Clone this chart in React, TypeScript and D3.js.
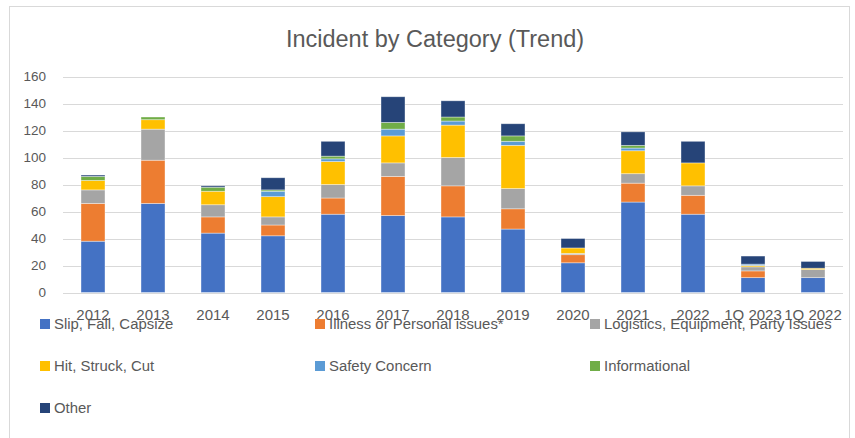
import { useEffect, useRef } from "react";
import * as d3 from "d3";

const categories = [
  "2012", "2013", "2014", "2015", "2016", "2017", "2018",
  "2019", "2020", "2021", "2022", "1Q 2023", "1Q 2022",
];

const slipFall = [38, 66, 44, 42, 58, 57, 56, 47, 22, 67, 58, 11, 11];
const illness = [28, 32, 12, 8, 12, 29, 23, 15, 6, 14, 14, 5, 0];
const logistics = [10, 23, 9, 6, 10, 10, 21, 15, 1, 7, 7, 3, 6];
const hitStruck = [7, 7, 10, 15, 17, 20, 24, 32, 4, 17, 17, 1, 1];
const safety = [0, 0, 0, 4, 2, 5, 3, 3, 0, 2, 0, 1, 0];
const informational = [3, 2, 3, 1, 2, 5, 3, 4, 0, 2, 0, 0, 0];
const other = [1, 0, 1, 9, 11, 19, 12, 9, 7, 10, 16, 6, 5];

const seriesNames = [
  "Slip, Fall, Capsize",
  "Illness or Personal issues*",
  "Logistics, Equipment, Party Issues",
  "Hit, Struck, Cut",
  "Safety Concern",
  "Informational",
  "Other",
];
const seriesValues = [slipFall, illness, logistics, hitStruck, safety, informational, other];
const colors = ["#4472C4", "#ED7D31", "#A5A5A5", "#FFC000", "#5B9BD5", "#70AD47", "#264478"];
const yTicks = [0, 20, 40, 60, 80, 100, 120, 140, 160];

export default function App() {
  const svgRef = useRef<SVGSVGElement>(null);

  useEffect(() => {
    const width = 855;
    const height = 438;
    const font = "'Liberation Sans', Arial, sans-serif";
    const textColor = "#595959";

    const svg = d3.select(svgRef.current).attr("width", width).attr("height", height);
    svg.selectAll("*").remove();

    svg.append("rect").attr("width", width).attr("height", height).attr("fill", "#fff");
    svg
      .append("rect")
      .attr("x", 9.5)
      .attr("y", 6.5)
      .attr("width", 840)
      .attr("height", 450)
      .attr("fill", "none")
      .attr("stroke", "#d9d9d9");

    svg
      .append("text")
      .attr("x", 435)
      .attr("y", 46.5)
      .attr("text-anchor", "middle")
      .attr("font-family", font)
      .attr("font-size", "23.5px")
      .attr("fill", textColor)
      .text("Incident by Category (Trend)");

    const x = d3.scaleBand().domain(categories).range([63, 843]).paddingInner(0.6).paddingOuter(0.3);
    const y = d3.scaleLinear().domain([0, 160]).range([292.5, 76.5]);

    // gridlines + y tick labels
    const grid = svg.append("g");
    grid
      .selectAll("line")
      .data(yTicks)
      .enter()
      .append("line")
      .attr("x1", 63)
      .attr("x2", 843)
      .attr("y1", (d) => Math.round(y(d)) + 0.5)
      .attr("y2", (d) => Math.round(y(d)) + 0.5)
      .attr("stroke", "#d9d9d9")
      .attr("stroke-width", 1);

    grid
      .selectAll("text")
      .data(yTicks)
      .enter()
      .append("text")
      .attr("x", 46)
      .attr("y", (d) => y(d))
      .attr("dy", "0.35em")
      .attr("text-anchor", "end")
      .attr("font-family", font)
      .attr("font-size", "13.5px")
      .attr("fill", textColor)
      .text((d) => d);

    const rows = categories.map((c, i) => {
      const row: Record<string, number | string> = { category: c };
      seriesNames.forEach((s, j) => (row[s] = seriesValues[j][i]));
      return row;
    });
    const layers = d3.stack<any>().keys(seriesNames)(rows);

    svg
      .append("g")
      .selectAll("g")
      .data(layers)
      .enter()
      .append("g")
      .attr("fill", (_, i) => colors[i])
      .selectAll("rect")
      .data((d) => d.filter((p) => p[1] - p[0] > 0))
      .enter()
      .append("rect")
      .attr("x", (d) => x(d.data.category as string)!)
      .attr("width", x.bandwidth())
      .attr("y", (d) => y(d[1]))
      .attr("height", (d) => y(d[0]) - y(d[1]))
      .attr("stroke", "#fff")
      .attr("stroke-opacity", 0.5)
      .attr("stroke-width", 0.75);

    // x labels (they overlap the legend in the original too)
    svg
      .append("g")
      .selectAll("text")
      .data(categories)
      .enter()
      .append("text")
      .attr("x", (d) => x(d)! + x.bandwidth() / 2)
      .attr("y", 319.5)
      .attr("text-anchor", "middle")
      .attr("font-family", font)
      .attr("font-size", "15px")
      .attr("fill", textColor)
      .text((d) => d);

    const legendCols = [40, 315, 590];
    const legendRows = [324, 366, 408];
    const legend = svg
      .append("g")
      .selectAll("g")
      .data(seriesNames)
      .enter()
      .append("g")
      .attr("transform", (_, i) => `translate(${legendCols[i % 3]},${legendRows[Math.floor(i / 3)]})`);
    legend
      .append("rect")
      .attr("x", 0)
      .attr("y", -5)
      .attr("width", 10)
      .attr("height", 10)
      .attr("fill", (_, i) => colors[i]);
    legend
      .append("text")
      .attr("x", 14)
      .attr("y", 0)
      .attr("dy", "0.35em")
      .attr("font-family", font)
      .attr("font-size", "14.9px")
      .attr("fill", textColor)
      .text((d) => d);
  }, []);

  return <svg ref={svgRef} style={{ position: "absolute", left: 0, top: 0 }} />;
}
